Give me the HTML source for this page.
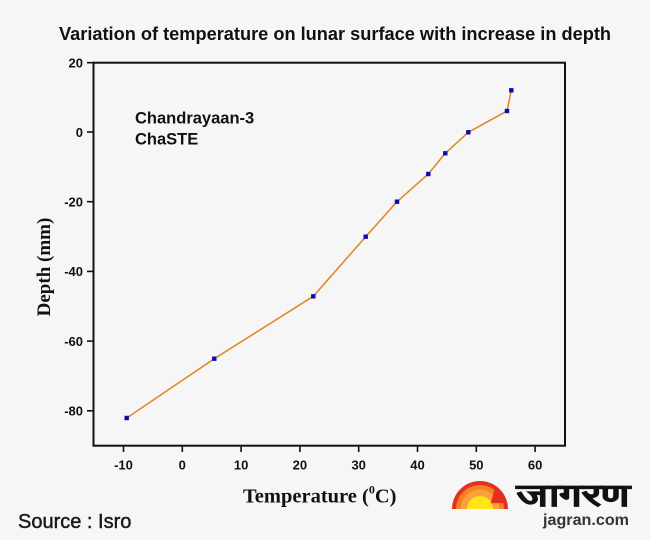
<!DOCTYPE html>
<html>
<head>
<meta charset="utf-8">
<style>
  html,body{margin:0;padding:0;background:#f6f6f6;}
  svg{display:block;}
  .tick{font-family:"Liberation Sans",Arial,sans-serif;font-weight:bold;font-size:13px;fill:#111;}
</style>
</head>
<body>
<svg width="650" height="540" viewBox="0 0 650 540" xmlns="http://www.w3.org/2000/svg">
  <rect x="0" y="0" width="650" height="540" fill="#f6f6f6"/>

  <!-- Title -->
  <text x="59" y="40" font-family="Liberation Sans, Arial, sans-serif" font-weight="bold" font-size="18.5" fill="#111" textLength="552" lengthAdjust="spacingAndGlyphs">Variation of temperature on lunar surface with increase in depth</text>

  <!-- Frame -->
  <rect x="93.5" y="62.7" width="471.5" height="383" fill="none" stroke="#111" stroke-width="2"/>

  <!-- Y ticks -->
  <g stroke="#111" stroke-width="1.6">
    <line x1="87" y1="62.7" x2="93.5" y2="62.7"/>
    <line x1="87" y1="132" x2="93.5" y2="132"/>
    <line x1="87" y1="201.7" x2="93.5" y2="201.7"/>
    <line x1="87" y1="271.4" x2="93.5" y2="271.4"/>
    <line x1="87" y1="341.1" x2="93.5" y2="341.1"/>
    <line x1="87" y1="410.8" x2="93.5" y2="410.8"/>
  </g>
  <g class="tick" text-anchor="end">
    <text x="83" y="67.5">20</text>
    <text x="83" y="137">0</text>
    <text x="83" y="206.5">-20</text>
    <text x="83" y="276.2">-40</text>
    <text x="83" y="345.9">-60</text>
    <text x="83" y="415.6">-80</text>
  </g>

  <!-- X ticks -->
  <g stroke="#111" stroke-width="1.6">
    <line x1="123.5" y1="446" x2="123.5" y2="452"/>
    <line x1="182.3" y1="446" x2="182.3" y2="452"/>
    <line x1="241.1" y1="446" x2="241.1" y2="452"/>
    <line x1="299.9" y1="446" x2="299.9" y2="452"/>
    <line x1="358.7" y1="446" x2="358.7" y2="452"/>
    <line x1="417.5" y1="446" x2="417.5" y2="452"/>
    <line x1="476.3" y1="446" x2="476.3" y2="452"/>
    <line x1="535.1" y1="446" x2="535.1" y2="452"/>
  </g>
  <g class="tick" text-anchor="middle">
    <text x="123.5" y="469.5">-10</text>
    <text x="182.3" y="469.5">0</text>
    <text x="241.1" y="469.5">10</text>
    <text x="299.9" y="469.5">20</text>
    <text x="358.7" y="469.5">30</text>
    <text x="417.5" y="469.5">40</text>
    <text x="476.3" y="469.5">50</text>
    <text x="535.1" y="469.5">60</text>
  </g>

  <!-- Axis labels -->
  <text transform="translate(50,267) rotate(-90)" text-anchor="middle" font-family="Liberation Serif, Times New Roman, serif" font-weight="bold" font-size="19" fill="#111">Depth (mm)</text>
  <text x="243" y="502.7" font-family="Liberation Serif, Times New Roman, serif" font-weight="bold" font-size="20.5" fill="#111">Temperature (<tspan font-size="12" dy="-9">0</tspan><tspan dy="9">C)</tspan></text>

  <!-- Annotation -->
  <text x="135" y="123.3" font-family="Liberation Sans, Arial, sans-serif" font-weight="bold" font-size="16.5" fill="#111">Chandrayaan-3</text>
  <text x="135" y="144.7" font-family="Liberation Sans, Arial, sans-serif" font-weight="bold" font-size="16.5" fill="#111">ChaSTE</text>

  <!-- Series -->
  <polyline fill="none" stroke="#e0892c" stroke-width="1.6" stroke-linejoin="round"
    points="126.7,418 214.3,358.7 313.3,296.3 365.7,236.7 397,201.7 428.3,174 445.3,153.3 468.3,132.3 507,111 511.3,90.3"/>
  <g fill="#0a0ab4">
    <rect x="124.5" y="415.8" width="4.4" height="4.4"/>
    <rect x="212.1" y="356.5" width="4.4" height="4.4"/>
    <rect x="311.1" y="294.1" width="4.4" height="4.4"/>
    <rect x="363.5" y="234.5" width="4.4" height="4.4"/>
    <rect x="394.8" y="199.5" width="4.4" height="4.4"/>
    <rect x="426.1" y="171.8" width="4.4" height="4.4"/>
    <rect x="443.1" y="151.1" width="4.4" height="4.4"/>
    <rect x="466.1" y="130.1" width="4.4" height="4.4"/>
    <rect x="504.8" y="108.8" width="4.4" height="4.4"/>
    <rect x="509.1" y="88.1" width="4.4" height="4.4"/>
  </g>

  <!-- Source -->
  <text x="18" y="528" font-family="Liberation Sans, Arial, sans-serif" font-size="20" fill="#1a1a1a" stroke="#1a1a1a" stroke-width="0.45">Source : Isro</text>

  <!-- Jagran logo -->
  <g>
    <path d="M452,509 A28,28 0 0 1 508,509 Z" fill="#e5301f"/>
    <path d="M456,509 A24,24 0 0 1 504,509 Z" fill="#f58220"/>
    <path d="M460.5,509 A19.5,19.5 0 0 1 499.5,509 Z" fill="#f9a13a"/>
    <path d="M467,509 A13,13 0 0 1 493,509 Z" fill="#ffe51a"/>
    <path d="M490.6,503.2 L495.3,487.4 A24,24 0 0 1 504,503 Z" fill="#e5301f"/>
  </g>
  <text x="517" y="506" font-family="Lohit Devanagari, Noto Sans Devanagari, FreeSans, DejaVu Sans, sans-serif" font-weight="bold" font-size="30" fill="#111" stroke="#111" stroke-width="0.8" textLength="113" lengthAdjust="spacingAndGlyphs">जागरण</text>
  <text x="543" y="525" font-family="Liberation Sans, Arial, sans-serif" font-weight="bold" font-size="16" fill="#333" textLength="86" lengthAdjust="spacingAndGlyphs">jagran.com</text>
</svg>
</body>
</html>
